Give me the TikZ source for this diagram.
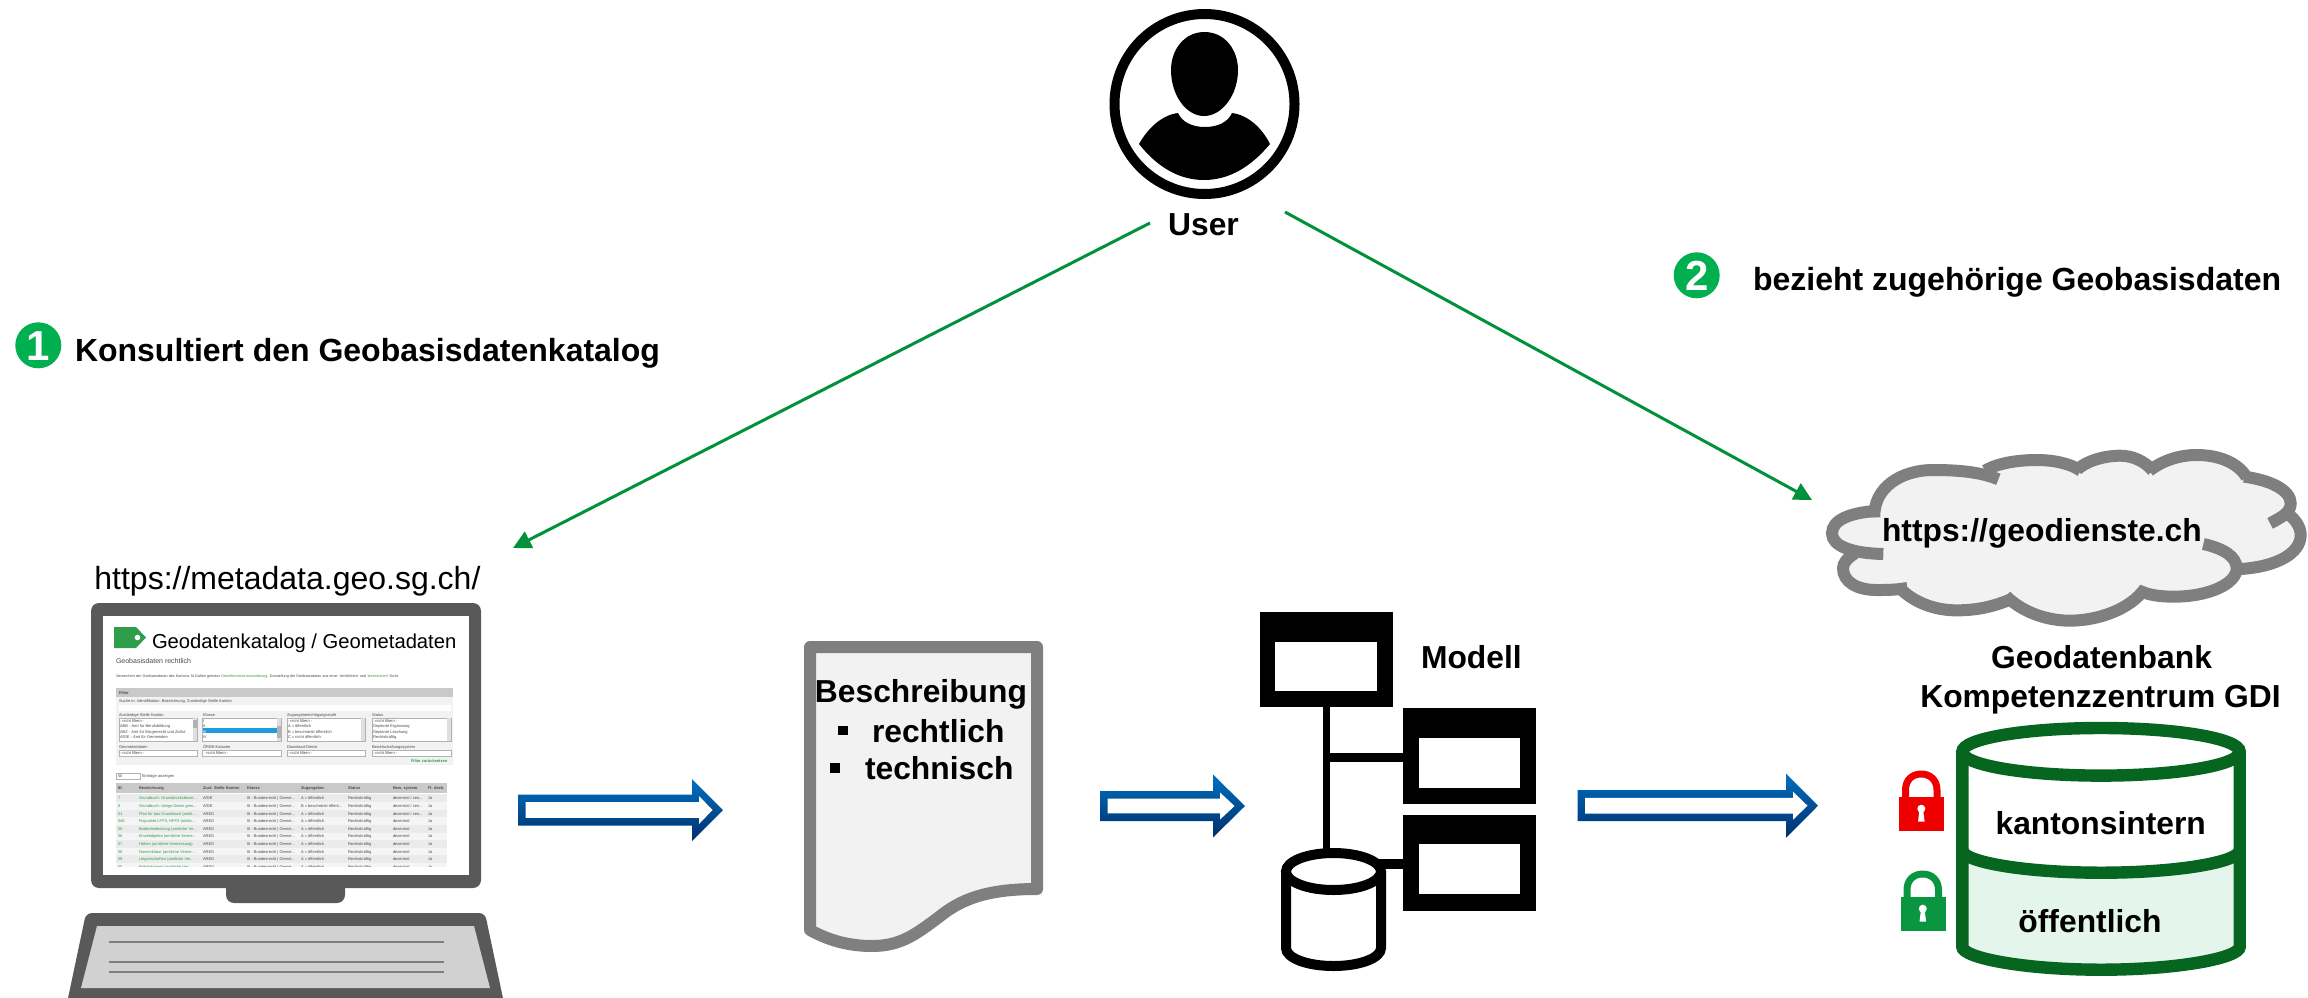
\documentclass[tikz,border=0pt]{standalone}
\usepackage{fontspec}
\setmainfont{Liberation Sans}
\usetikzlibrary{arrows.meta}
\definecolor{arrowgreen}{HTML}{00913A}
\definecolor{badgegreen}{HTML}{00B050}
\definecolor{dbgreen}{HTML}{06661F}
\definecolor{dbfill}{HTML}{E4F5EB}
\definecolor{docgrey}{HTML}{7F7F7F}
\definecolor{docfill}{HTML}{F2F2F2}
\definecolor{monitor}{HTML}{595959}
\definecolor{tagreen}{HTML}{2E9E4A}
\definecolor{blueA}{HTML}{0070C0}
\definecolor{blueB}{HTML}{002F6C}
\definecolor{lockred}{HTML}{EE0000}
\definecolor{lockgreen}{HTML}{0A9640}
\definecolor{headgrey}{HTML}{C9C9C9}
\definecolor{txtgrey}{HTML}{4A4A4A}
\definecolor{selblue}{HTML}{1E9CDC}
\newcommand\bigbold{\fontsize{15.9}{18}\selectfont\bfseries}
\newcommand\bigreg{\fontsize{16}{18}\selectfont}
\newcount\scn
\tikzset{
  lbl/.style={inner sep=0pt,outer sep=0pt,anchor=base,font=\bigbold,text=black},
  lblw/.style={inner sep=0pt,outer sep=0pt,anchor=base west,font=\bigbold,text=black},
  scr/.style={inner sep=0pt,outer sep=0pt,anchor=base west},
  greenarrow/.style={draw=arrowgreen,line width=1.5pt,-{Triangle[length=9pt,width=9pt]}},
  cloudline/.style={draw=docgrey,line width=6pt,line cap=butt},
}
% tiny screen text: x, baseline y, size, colour, text
\newcommand\st[5]{\global\advance\scn by 1
  \node[scr,name=s\the\scn,text=#4,font=\fontsize{#3}{#3}\selectfont] at (#1,#2) {#5};}
\newcommand\stb[5]{\global\advance\scn by 1
  \node[scr,name=s\the\scn,text=#4,font=\fontsize{#3}{#3}\selectfont\bfseries] at (#1,#2) {#5};}
% table row
\newcommand\trow[7]{%
  \fill[#1] (116,#2-4) rectangle (447,#2+3.7);
  \st{118}{#2+1.4}{2}{tagreen}{#3}
  \st{139}{#2+1.4}{2}{tagreen}{#4}
  \st{203}{#2+1.4}{2}{txtgrey}{#5}
  \st{247}{#2+1.4}{2}{txtgrey}{III - Bundesrecht | Gemei...}
  \st{301}{#2+1.4}{2}{txtgrey}{#6}
  \st{348}{#2+1.4}{2}{txtgrey}{Rechtskräftig}
  \st{393}{#2+1.4}{2}{txtgrey}{#7}
  \st{428}{#2+1.4}{2}{txtgrey}{Ja}
}
% block arrow: xleft, xback, xtip, ycentre, half shaft, half head
\newcommand\blockarrow[6]{%
  \shade[top color=blueA,bottom color=blueB]
    (#1,#4-#5) -- (#2,#4-#5) -- (#2,#4-#6) -- (#3,#4) -- (#2,#4+#6) -- (#2,#4+#5) -- (#1,#4+#5) -- cycle;
  \fill[white]
    (#1+7.5,#4-#5+7.7) -- (#2+7,#4-#5+7.7) -- (#2+7,#4-#5+1.5) -- (#3-10.5,#4) -- (#2+7,#4+#5-1.5) -- (#2+7,#4+#5-7.7) -- (#1+7.5,#4+#5-7.7) -- cycle;
}
\newcommand\padlock[1]{%
  \draw[#1,line width=3.5pt,line cap=butt] (1905.5,800) -- (1905.5,790) .. controls (1905.5,780) and (1912,774) .. (1921.3,774) .. controls (1930,774) and (1937,780) .. (1937,790) -- (1937,800);
  \fill[#1] (1899,797) rectangle (1944,831);
  \fill[white] (1921.3,808.7) circle[radius=4];
  \fill[white] (1919.6,808.7) -- (1923,808.7) -- (1924.6,821.7) -- (1918,821.7) -- cycle;
}
\begin{document}
\begin{tikzpicture}[x=0.5pt,y=-0.5pt]
\useasboundingbox (0,0) rectangle (2308,997);

% ---------- user ----------
\draw[black,line width=5pt] (1204.5,104) circle[radius=90];
\fill[black] (1204.5,32) .. controls (1225,32) and (1238,50) .. (1238,70) .. controls (1238,95) and (1222,116) .. (1204,116) .. controls (1186,116) and (1171,95) .. (1171,70) .. controls (1171,50) and (1184,32) .. (1204.5,32) -- cycle;
\fill[black] (1139,144) .. controls (1148,128) and (1162,115) .. (1178,113) .. controls (1182,122) and (1192,127) .. (1205,127) .. controls (1218,127) and (1228,122) .. (1232,113) .. controls (1248,115) and (1262,128) .. (1270,144) .. controls (1250,168) and (1228,180) .. (1204,180) .. controls (1180,180) and (1158,168) .. (1139,144) -- cycle;
\node[lbl] (user) at (1203.5,235) {User};

% ---------- green arrows ----------
\coordinate (ustartl) at (1150,223);
\coordinate (utipl) at (513,548);
\coordinate (ustartr) at (1285,212);
\coordinate (utipr) at (1812,500);
\draw[greenarrow] (ustartl) -- (utipl);
\draw[greenarrow] (ustartr) -- (utipr);

% ---------- step labels ----------
\fill[badgegreen] (38.3,345.3) circle[radius=23];
\node[lbl,text=white,font=\fontsize{21}{21}\selectfont\bfseries] (one) at (38.3,360.5) {1};
\node[lblw,font=\fontsize{16}{18}\selectfont\bfseries] (konsult) at (75,361) {Konsultiert den Geobasisdatenkatalog};
\fill[badgegreen] (1696.7,275.3) circle[radius=23];
\node[lbl,text=white,font=\fontsize{21}{21}\selectfont\bfseries] (two) at (1696.7,290.5) {2};
\node[lblw,font=\fontsize{16}{18}\selectfont\bfseries] (bezieht) at (1753,290) {bezieht zugehörige Geobasisdaten};

% ---------- computer ----------
\node[inner sep=0pt,anchor=base west,font=\bigreg] (meta) at (94,589) {https://metadata.geo.sg.ch/};
\fill[monitor,rounded corners=4pt] (91,603) rectangle (481,888);
\fill[monitor,rounded corners=4pt] (226,880) rectangle (345,903);
\fill[white] (103,616) rectangle (469,875);
\fill[monitor,rounded corners=3pt] (86,913) -- (485,913) -- (504,1003) -- (67,1003) -- cycle;
\fill[headgrey!85!white] (97,926) -- (474,926) -- (490,988) -- (81,988) -- cycle;
\foreach \ky in {942,962,972} \draw[docgrey,line width=1pt] (109,\ky) -- (444,\ky);

% screen content
\fill[tagreen] (114,627) -- (136,627) -- (146,637.5) -- (136,648) -- (114,648) -- cycle;
\fill[white] (137.5,637.5) circle[radius=2.8];
\node[scr,font=\fontsize{10.1}{12}\selectfont] (title) at (152,648) {Geodatenkatalog / Geometadaten};
\st{116}{663}{3.5}{txtgrey}{Geobasisdaten rechtlich}
\node[scr,font=\fontsize{1.87}{2}\selectfont,text=txtgrey] (intro) at (116,677) {Verzeichnis der Geobasisdaten des Kantons St.Gallen gemäss \textcolor{tagreen}{Geoinformationsverordnung}. Darstellung der Geobasisdaten aus einer 'rechtlichen' und '\textcolor{tagreen}{technischen}' Sicht.};
\fill[docfill] (116,688) rectangle (453,765);
\fill[headgrey] (116,688) rectangle (453,697);
\stb{119}{694}{2}{txtgrey}{Filter}
\st{119}{702}{2}{txtgrey}{Suche in: Identifikation, Bezeichnung, Zuständige Stelle Kanton}
\fill[white] (119,705) rectangle (451,711);
\st{119}{716}{2}{txtgrey}{Zuständige Stelle Kanton}
\st{203}{716}{2}{txtgrey}{Klasse}
\st{287}{716}{2}{txtgrey}{Zugangsberechtigungsstufe}
\st{372}{716}{2}{txtgrey}{Status}
\foreach \xa/\xb in {119/197,202/281,287/365,372/451}{
  \fill[white] (\xa,718) rectangle (\xb,741);
  \draw[gray!60,line width=.25pt] (\xa,718) rectangle (\xb,741);
  \fill[gray!25] (\xb-4,718) rectangle (\xb,741);
}
\fill[gray!60] (193,720) rectangle (197,728);
\fill[gray!60] (277,726) rectangle (281,738);
\fill[selblue] (203,728) rectangle (276.5,733);
\st{120}{722}{2}{txtgrey}{- nicht filtern -}
\st{120}{727.5}{2}{txtgrey}{ABB - Amt für Berufsbildung}
\st{120}{733}{2}{txtgrey}{ABZ - Amt für Bürgerrecht und Zivilst.}
\st{120}{738}{2}{txtgrey}{AfGE - Amt für Gemeinden}
\st{203}{722}{2}{txtgrey}{I}
\st{203}{727.5}{2}{txtgrey}{II}
\st{203}{733}{2}{white}{III}
\st{203}{738}{2}{txtgrey}{IV}
\st{288}{722}{2}{txtgrey}{- nicht filtern -}
\st{288}{727.5}{2}{txtgrey}{A = öffentlich}
\st{288}{733}{2}{txtgrey}{B = beschränkt öffentlich}
\st{288}{738}{2}{txtgrey}{C = nicht öffentlich}
\st{373}{722}{2}{txtgrey}{- nicht filtern -}
\st{373}{727.5}{2}{txtgrey}{Geplante Ergänzung}
\st{373}{733}{2}{txtgrey}{Geplante Löschung}
\st{373}{738}{2}{txtgrey}{Rechtskräftig}
\st{119}{748}{2}{txtgrey}{Geometriedaten}
\st{203}{748}{2}{txtgrey}{ÖREB-Kataster}
\st{287}{748}{2}{txtgrey}{Download-Dienst}
\st{372}{748}{2}{txtgrey}{Bewirtschaftungssystem}
\foreach \xa/\xb in {119/197,202/281,287/365,372/451}{
  \fill[white] (\xa,750) rectangle (\xb,756);
  \draw[gray!60,line width=.25pt] (\xa,750) rectangle (\xb,756);
}
\st{120}{754.5}{2}{txtgrey}{- nicht filtern -}
\st{204}{754.5}{2}{txtgrey}{- nicht filtern -}
\st{288}{754.5}{2}{txtgrey}{- nicht filtern -}
\st{373}{754.5}{2}{txtgrey}{- nicht filtern -}
\stb{411}{762}{2}{tagreen}{Filter zurücksetzen}
\draw[gray!60,line width=.25pt] (116,773) rectangle (140,779);
\st{118}{777.5}{2}{txtgrey}{50}
\st{142}{777.5}{2}{txtgrey}{Einträge anzeigen}
\fill[headgrey] (116,783) rectangle (447,793);
\stb{118}{789.5}{2}{txtgrey}{ID}
\stb{139}{789.5}{2}{txtgrey}{Bezeichnung}
\stb{203}{789.5}{2}{txtgrey}{Zust. Stelle Kanton}
\stb{247}{789.5}{2}{txtgrey}{Klasse}
\stb{301}{789.5}{2}{txtgrey}{Zugangsber.}
\stb{348}{789.5}{2}{txtgrey}{Status}
\stb{393}{789.5}{2}{txtgrey}{Bew. system}
\stb{428}{789.5}{2}{txtgrey}{Fl. deck.}
\begin{scope}
\clip (116,793) rectangle (447,866);
\trow{black!8}{798}{7}{Grundbuch: Grundstücksbezei...}{AfGE}{A = öffentlich}{dezentral / zen...}
\trow{black!4}{806}{8}{Grundbuch: übrige Daten gem...}{AfGE}{B = beschränkt öffent...}{dezentral / zen...}
\trow{black!8}{814}{51}{Plan für das Grundbuch (amtli...}{AREG}{A = öffentlich}{dezentral / zen...}
\trow{black!4}{821}{548}{Fixpunkte LFP3, HFP3 (amtlic...}{AREG}{A = öffentlich}{dezentral}
\trow{black!8}{829}{55}{Bodenbedeckung (amtliche Ve...}{AREG}{A = öffentlich}{dezentral}
\trow{black!4}{836.5}{56}{Einzelobjekte (amtliche Verme...}{AREG}{A = öffentlich}{dezentral}
\trow{black!8}{844}{57}{Höhen (amtliche Vermessung)}{AREG}{A = öffentlich}{dezentral}
\trow{black!4}{852}{58}{Nomenklatur (amtliche Verme...}{AREG}{A = öffentlich}{dezentral}
\trow{black!8}{859}{59}{Liegenschaften (amtliche Ver...}{AREG}{A = öffentlich}{dezentral}
\trow{black!4}{867}{60}{Rohrleitungen (amtliche Ver...}{AREG}{A = öffentlich}{dezentral}
\end{scope}

% ---------- block arrows ----------
\blockarrow{518}{692}{723}{810}{15.5}{31}
\blockarrow{1100}{1213}{1245}{806}{15}{31.5}
\blockarrow{1577.7}{1786}{1818}{805.7}{15.5}{32.2}

% ---------- document ----------
\draw[draw=docgrey,fill=docfill,line width=6pt,line join=round]
  (810,647) -- (1037,647) -- (1037,889) .. controls (985,889) and (960,900) .. (939,917) .. controls (915,935) and (900,946) .. (872,946) .. controls (848,946) and (828,940) .. (810,930) -- cycle;
\node[lbl] (besch) at (921,702) {Beschreibung};
\fill[black] (838,726) rectangle (848,735);
\node[lblw] (recht) at (872,742) {rechtlich};
\fill[black] (830,763) rectangle (840,773);
\node[lblw] (tech) at (865,779) {technisch};

% ---------- model ----------
\fill[black] (1323,700) rectangle (1330,860);
\fill[black] (1330,753) rectangle (1410,762);
\fill[black] (1370,859) rectangle (1410,869);
\foreach \bxa/\bya/\bxb/\byb/\ixa/\iya/\ixb/\iyb in {1260/612/1393/707/1275/642/1377/691,1403/708/1536/804/1419/738/1520/788,1403/815/1536/911/1419/844/1520/894}{
  \fill[black] (\bxa,\bya) rectangle (\bxb,\byb);
  \fill[white] (\ixa,\iya) rectangle (\ixb,\iyb);
}
\draw[black,fill=white,line width=5pt] (1286,871.5) -- (1286,948) .. controls (1286,958) and (1307,966) .. (1333.5,966) .. controls (1360,966) and (1381,958) .. (1381,948) -- (1381,871.5);
\draw[black,fill=white,line width=5pt] (1333.5,871.5) ellipse[x radius=47.5,y radius=18.5];
\node[lblw] (modell) at (1421,668) {Modell};

% ---------- cloud ----------
\begin{scope}[shift={(1820,440)},x=0.16667pt,y=-0.16667pt]
\fill[docfill] (190,342) .. controls (100,340) and (36,320) .. (36,280) .. controls (36,240) and (90,218) .. (163,213)
  .. controls (170,145) and (240,90) .. (340,90) .. controls (410,90) and (480,90) .. (510,95)
  .. controls (540,65) and (610,60) .. (650,60) .. controls (700,60) and (750,70) .. (776,90)
  .. controls (810,55) and (870,47) .. (900,47) .. controls (940,47) and (975,65) .. (992,90)
  .. controls (1030,60) and (1080,45) .. (1130,45) .. controls (1200,45) and (1255,70) .. (1276,110)
  .. controls (1350,120) and (1412,150) .. (1412,190) .. controls (1412,200) and (1410,208) .. (1400,218)
  .. controls (1425,235) and (1442,260) .. (1442,285) .. controls (1442,340) and (1370,380) .. (1250,387)
  .. controls (1250,430) and (1170,470) .. (1060,470) .. controls (1020,470) and (985,465) .. (965,450)
  .. controls (930,510) and (830,542) .. (750,542) .. controls (670,542) and (600,510) .. (565,472)
  .. controls (520,500) and (470,511) .. (410,511) .. controls (340,511) and (280,485) .. (250,445)
  .. controls (225,450) and (200,450) .. (170,450) .. controls (110,450) and (69,425) .. (69,385)
  .. controls (69,370) and (80,355) .. (100,342) -- cycle;
\draw[cloudline] (190,342) .. controls (100,340) and (36,320) .. (36,280) .. controls (36,240) and (90,218) .. (168,213);
\draw[cloudline] (163,232) .. controls (160,145) and (240,90) .. (340,90) .. controls (410,90) and (480,95) .. (535,118);
\draw[cloudline] (495,92) .. controls (540,65) and (610,60) .. (650,60) .. controls (700,60) and (750,70) .. (782,92);
\draw[cloudline] (772,88) .. controls (810,55) and (870,47) .. (900,47) .. controls (940,47) and (975,65) .. (998,92);
\draw[cloudline] (988,92) .. controls (1030,60) and (1080,45) .. (1130,45) .. controls (1200,45) and (1255,70) .. (1280,112);
\draw[cloudline] (1272,110) .. controls (1350,120) and (1412,150) .. (1412,190) .. controls (1412,215) and (1390,230) .. (1350,250);
\draw[cloudline] (1395,215) .. controls (1425,235) and (1442,260) .. (1442,285) .. controls (1442,340) and (1370,380) .. (1262,387);
\draw[cloudline] (1150,312) .. controls (1210,325) and (1250,350) .. (1250,385) .. controls (1250,430) and (1170,470) .. (1060,470) .. controls (1020,470) and (985,465) .. (958,452);
\draw[cloudline] (975,445) .. controls (930,510) and (830,542) .. (750,542) .. controls (670,542) and (600,510) .. (558,468);
\draw[cloudline] (572,478) .. controls (520,500) and (470,511) .. (410,511) .. controls (340,511) and (280,485) .. (240,445);
\draw[cloudline] (262,444) .. controls (225,450) and (200,450) .. (170,450) .. controls (110,450) and (69,425) .. (69,385) .. controls (69,370) and (80,355) .. (105,340);
\end{scope}
\node[lblw] (geod) at (1882,541.5) {https://geodienste.ch};

% ---------- database ----------
\node[lbl] (gdb) at (2101.5,668) {Geodatenbank};
\node[lbl] (kgdi) at (2100.5,707) {Kompetenzzentrum GDI};
\fill[dbfill] (1962.3,850) .. controls (1962.3,862) and (2025,872.7) .. (2101,872.7) .. controls (2178,872.7) and (2239.7,862) .. (2239.7,850) -- (2239.7,946.7) .. controls (2239.7,958) and (2178,969.7) .. (2101,969.7) .. controls (2025,969.7) and (1962.3,958) .. (1962.3,946.7) -- cycle;
\draw[dbgreen,line width=6.2pt] (1962.3,751.8) -- (1962.3,946.7) .. controls (1962.3,958) and (2025,969.7) .. (2101,969.7) .. controls (2178,969.7) and (2239.7,958) .. (2239.7,946.7) -- (2239.7,751.8);
\draw[dbgreen,line width=6.2pt] (1962.3,850) .. controls (1962.3,862) and (2025,872.7) .. (2101,872.7) .. controls (2178,872.7) and (2239.7,862) .. (2239.7,850);
\draw[dbgreen,line width=6.2pt] (2101,751.8) ellipse[x radius=138.7,y radius=23.8];
\node[lbl] (kant) at (2100.7,834) {kantonsintern};
\node[lbl] (oeff) at (2090,932.7) {öffentlich};
\padlock{lockred}
\begin{scope}[shift={(1.5,100)}]
\padlock{lockgreen}
\end{scope}
\end{tikzpicture}
\end{document}
